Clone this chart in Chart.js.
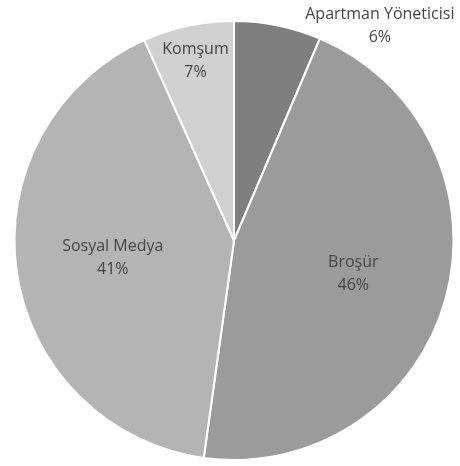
<!DOCTYPE html>
<html>
<head>
<meta charset="utf-8">
<script src="https://cdn.jsdelivr.net/npm/chart.js@4"></script>
<style>
  html, body { margin: 0; padding: 0; background: #fff; }
  #wrap { width: 460px; height: 466px; position: relative; }
</style>
</head>
<body>
<div id="wrap"><canvas id="pieChart"></canvas></div>
<script>
// veriler
const categories = ['Apartman Yöneticisi', 'Broşür', 'Sosyal Medya', 'Komşum'];
const values = [6.4, 45.8, 41.1, 6.7];
const sliceColors = ['#7f7f7f', '#9b9b9b', '#b4b4b4', '#d0d0d0'];

// etiket yerleşimi (yarıçap oranı + piksel kaydırma)
const labelRadius = [1.0, 0.564, 0.558, 0.84];
const labelShift = [[102, 1], [0, 0], [0, 0], [0, 1]];

const pieLabels = {
  id: 'pieLabels',
  afterDatasetsDraw(chart) {
    const ctx = chart.ctx;
    const meta = chart.getDatasetMeta(0);
    const data = chart.data.datasets[0].data;
    const total = data.reduce((a, b) => a + b, 0);
    ctx.save();
    ctx.font = '16px "Open Sans"';
    ctx.fillStyle = '#454545';
    ctx.textAlign = 'center';
    ctx.textBaseline = 'middle';
    meta.data.forEach((arc, i) => {
      const p = arc.getProps(['x', 'y', 'startAngle', 'endAngle', 'outerRadius'], true);
      const mid = (p.startAngle + p.endAngle) / 2;
      const r = p.outerRadius * labelRadius[i];
      const x = p.x + Math.cos(mid) * r + labelShift[i][0];
      const y = p.y + Math.sin(mid) * r + labelShift[i][1];
      const pct = Math.round(data[i] / total * 100) + '%';
      ctx.fillText(chart.data.labels[i], x, y - 11.5);
      ctx.fillText(pct, x, y + 11.5);
    });
    ctx.restore();
  }
};

const ctx = document.getElementById('pieChart').getContext('2d');
const pieChart = new Chart(ctx, {
  type: 'pie',
  data: {
    labels: categories,
    datasets: [{
      data: values,
      backgroundColor: sliceColors,
      borderColor: '#ffffff',
      borderWidth: 2
    }]
  },
  options: {
    responsive: true,
    maintainAspectRatio: false,
    animation: false,
    layout: { padding: { left: 13.5, right: 5.5, top: 20, bottom: 5 } },
    plugins: {
      legend: { display: false },
      tooltip: { enabled: false }
    }
  },
  plugins: [pieLabels]
});
</script>
</body>
</html>
